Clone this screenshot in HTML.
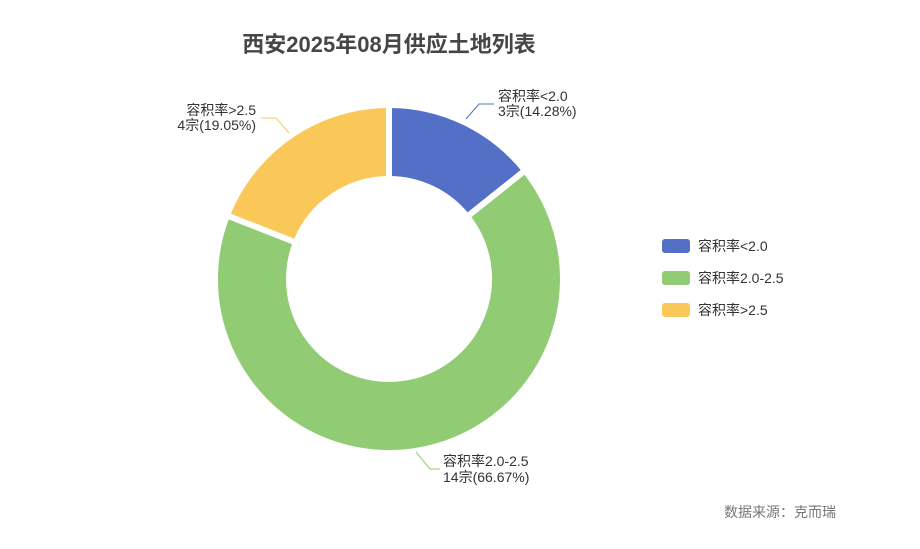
<!DOCTYPE html>
<html><head><meta charset="utf-8"><style>
body{margin:0;background:#fff;}
svg text{font-family:"Liberation Sans","Noto Sans CJK SC",sans-serif;}
</style></head><body>
<svg width="920" height="544" viewBox="0 0 920 544" xmlns="http://www.w3.org/2000/svg">
<rect width="920" height="544" fill="#fff"/>
<text x="389" y="52" text-anchor="middle" font-size="22" font-weight="bold" fill="#464646">西安2025年08月供应土地列表</text>
<g stroke="#fff" stroke-width="6" stroke-linejoin="round">
<path d="M389 105 A174 174 0 0 1 525.0 170.5 L467.2 216.6 A100 100 0 0 0 389 179 Z" fill="#5470c6"/>
<path d="M525.0 170.5 A174 174 0 1 1 227.0 215.4 L295.9 242.5 A100 100 0 1 0 467.2 216.6 Z" fill="#91cc75"/>
<path d="M227.0 215.4 A174 174 0 0 1 389 105 L389 179 A100 100 0 0 0 295.9 242.5 Z" fill="#fac858"/>
</g>
<g fill="none" stroke-width="1">
<polyline points="466,119 479,104 494,104" stroke="#5470c6"/>
<polyline points="289,133 276,118 261,118" stroke="#fac858"/>
<polyline points="416,452 430,469 440,469" stroke="#91cc75"/>
</g>
<g font-size="14" fill="#333">
<text x="498" y="101">容积率&lt;2.0</text>
<text x="498" y="116">3宗(14.28%)</text>
<text x="256" y="115" text-anchor="end">容积率&gt;2.5</text>
<text x="256" y="130" text-anchor="end">4宗(19.05%)</text>
<text x="443" y="466">容积率2.0-2.5</text>
<text x="443" y="482">14宗(66.67%)</text>
</g>
<rect x="662" y="239" width="28" height="14" rx="3" fill="#5470c6"/>
<rect x="662" y="271" width="28" height="14" rx="3" fill="#91cc75"/>
<rect x="662" y="303" width="28" height="14" rx="3" fill="#fac858"/>
<g font-size="14" fill="#333">
<text x="698" y="251">容积率&lt;2.0</text>
<text x="698" y="283">容积率2.0-2.5</text>
<text x="698" y="315">容积率&gt;2.5</text>
</g>
<text x="836" y="517" text-anchor="end" font-size="14" fill="#777">数据来源：克而瑞</text>
</svg>
</body></html>
